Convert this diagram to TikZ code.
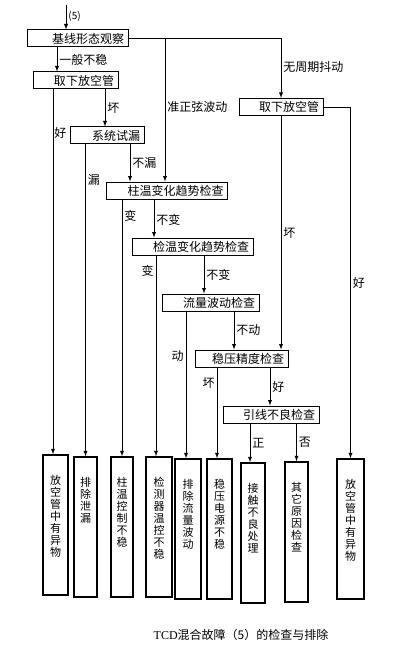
\documentclass[tikz,border=0pt]{standalone}
\usepackage{fontspec}
\setmainfont{Noto Sans CJK SC}
\newfontfamily\capfont{Liberation Serif}
\usetikzlibrary{positioning}

\tikzset{
  hop/.style={draw, line width=1pt, text width={#1pt-8pt}, align=right,
    inner xsep=4pt, inner ysep=0pt, minimum height=17pt,
    font=\fontsize{12}{13}\selectfont},
  leaf/.style={draw, line width=1.4pt, inner sep=0pt, minimum width=24pt,
    minimum height=140pt,
    label={[anchor=north, yshift=-21pt, align=center, inner sep=0pt,
      font=\fontsize{11}{12}\selectfont]north:#1}},
  tag/.style={font=\fontsize{12}{13}\selectfont, inner sep=2pt},
  wire/.style={line width=0.9pt},
}

\begin{document}
\begin{tikzpicture}[x=1pt, y=-1pt, >=latex]
    \useasboundingbox (0,0) rectangle (415,655);

    % 1. Các ô kiểm tra
    \node[hop=101] (jx) at (77.5,38.5) {基线形态观察};
    \node[hop=85] (qx1) at (75.5,80.5) {取下放空管};
    \node[hop=74] (xt) at (107,135.5) {系统试漏};
    \node[hop=121] (zw) at (167,190.5) {柱温变化趋势检查};
    \node[hop=121] (jw) at (192.5,246.5) {检温变化趋势检查};
    \node[hop=97] (ll) at (210.5,302.5) {流量波动检查};
    \node[hop=84] (qx2) at (281,107) {取下放空管};
    \node[hop=93] (wy) at (241.5,358.5) {稳压精度检查};
    \node[hop=96] (yx) at (271,414.5) {引线不良检查};

    % 2. Các ô kết quả
    \node[leaf={放\\空\\管\\中\\有\\异\\物}, minimum width=25pt] (r1) at (55.5,525) {};
    \node[leaf={排\\除\\泄\\漏}, minimum width=23pt] (r2) at (85.5,527) {};
    \node[leaf={柱\\温\\控\\制\\不\\稳}, minimum width=22pt] (r3) at (122,527) {};
    \node[leaf={检\\测\\器\\温\\控\\不\\稳}, minimum width=26pt] (r4) at (159,527) {};
    \node[leaf={排\\除\\流\\量\\波\\动}, minimum width=26pt] (r5) at (188,529) {};
    \node[leaf={稳\\压\\电\\源\\不\\稳}, minimum width=25pt] (r6) at (219.5,529) {};
    \node[leaf={接\\触\\不\\良\\处\\理}] (r7) at (253,533) {};
    \node[leaf={其\\它\\原\\因\\检\\查}, minimum width=23pt] (r8) at (296.5,532) {};
    \node[leaf={放\\空\\管\\中\\有\\异\\物}, minimum width=27pt] (r9) at (350.5,529) {};

    % 3. Đường nối
    \coordinate (in) at (66,5);
    \draw[wire, ->] (in) -- (in |- jx.north)
        node[tag, pos=0.45, right, font=\fontsize{10}{11}\selectfont] {(5)};
    \draw[wire, ->] ([xshift=-20.5pt]jx.south) -- ([xshift=-20.5pt]jx.south |- qx1.north)
        node[tag, midway, right] {一般不稳};
    \draw[wire, ->] (jx.east) -| (qx2.north)
        node[tag, pos=0.74, right] {无周期抖动};
    \draw[wire, ->] ([xshift=-2pt]zw.north |- jx.east) -- ([xshift=-2pt]zw.north)
        node[tag, pos=0.48, right] {准正弦波动};

    \draw[wire, ->] ([xshift=-2.5pt]r1.north |- qx1.south) -- ([xshift=-2.5pt]r1.north)
        node[tag, pos=0.12, right, inner sep=1pt] {好};
    \draw[wire, ->] ([xshift=29.5pt]qx1.south) -- ([xshift=29.5pt]qx1.south |- xt.north)
        node[tag, midway, right] {坏};
    \draw[wire, ->] (r2.north |- xt.south) -- (r2.north)
        node[tag, pos=0.115, right] {漏};
    \draw[wire, ->] ([xshift=23pt]xt.south) -- ([xshift=23pt]xt.south |- zw.north)
        node[tag, midway, right] {不漏};

    \draw[wire, ->] (r3.north |- zw.south) -- (r3.north)
        node[tag, pos=0.065, right] {变};
    \draw[wire, ->] ([xshift=-13pt]zw.south) -- ([xshift=-13pt]zw.south |- jw.north)
        node[tag, pos=0.54, right] {不变};
    \draw[wire, ->] ([xshift=-3pt]r4.north |- jw.south) -- ([xshift=-3pt]r4.north)
        node[tag, pos=0.075, left] {变};
    \draw[wire, ->] ([xshift=11.5pt]jw.south) -- ([xshift=11.5pt]jw.south |- ll.north)
        node[tag, midway, right] {不变};

    \draw[wire, ->] ([xshift=-2pt]r5.north |- ll.south) -- ([xshift=-2pt]r5.north)
        node[tag, pos=0.3, left] {动};
    \draw[wire, ->] ([xshift=23.5pt]ll.south) -- ([xshift=23.5pt]ll.south |- wy.north)
        node[tag, midway, right] {不动};
    \draw[wire, ->] (qx2.south) -- (qx2.south |- wy.north)
        node[tag, midway, right] {坏};
    \draw[wire, ->] (qx2.east) -| (r9.north)
        node[tag, pos=0.75, right] {好};

    \draw[wire, ->] ([xshift=-2.5pt]r6.north |- wy.south) -- ([xshift=-2.5pt]r6.north)
        node[tag, pos=0.17, left] {坏};
    \draw[wire, ->] ([xshift=28.5pt]wy.south) -- ([xshift=28.5pt]wy.south |- yx.north)
        node[tag, midway, right] {好};
    \draw[wire, ->] ([xshift=-3pt]r7.north |- yx.south) -- ([xshift=-3pt]r7.north)
        node[tag, midway, right] {正};
    \draw[wire, ->] (r8.north |- yx.south) -- (r8.north)
        node[tag, midway, right] {否};

    % 4. Tiêu đề
    \node[font=\fontsize{12}{13}\selectfont] (cap) at (241,635) {{\capfont TCD}混合故障（5）的检查与排除};
\end{tikzpicture}
\end{document}
